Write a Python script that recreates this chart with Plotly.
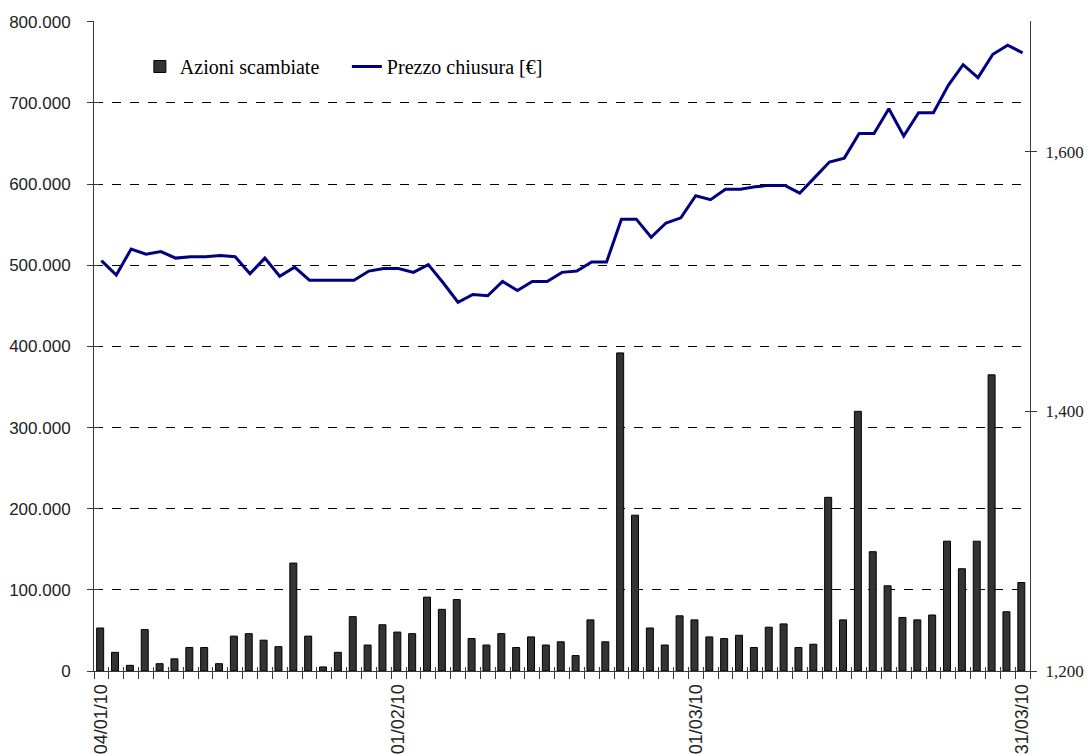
import pandas as pd
import plotly.graph_objects as go

# ---- data ----
dates = [d.strftime("%d/%m/%y") for d in pd.bdate_range("2010-01-04", "2010-03-31")]

volumes = [53000, 23000, 7000, 51000, 9000, 15000, 29000, 29000, 9000, 43000,
           46000, 38000, 30000, 133000, 43000, 5000, 23000, 67000, 32000, 57000,
           48000, 46000, 91000, 76000, 88000, 40000, 32000, 46000, 29000, 42000,
           32000, 36000, 19000, 63000, 36000, 392000, 192000, 53000, 32000, 68000,
           63000, 42000, 40000, 44000, 29000, 54000, 58000, 29000, 33000, 214000,
           63000, 320000, 147000, 105000, 66000, 63000, 69000, 160000, 126000, 160000,
           365000, 73000, 109000]

prices = [1516, 1505, 1525, 1521, 1523, 1518, 1519, 1519, 1520, 1519,
          1506, 1518, 1504, 1511, 1501, 1501, 1501, 1501, 1508, 1510,
          1510, 1507, 1513, 1499, 1484, 1490, 1489, 1500, 1493, 1500,
          1500, 1507, 1508, 1515, 1515, 1548, 1548, 1534, 1545, 1549,
          1566, 1563, 1571, 1571, 1573, 1574, 1574, 1568, 1580, 1592,
          1595, 1614, 1614, 1633, 1612, 1630, 1630, 1651, 1667, 1657,
          1675, 1682, 1676]

date_labels = ["04/01/10", "01/02/10", "01/03/10", "31/03/10"]
left_ticks = [0, 100000, 200000, 300000, 400000, 500000, 600000, 700000, 800000]
left_text = ["0", "100.000", "200.000", "300.000", "400.000",
             "500.000", "600.000", "700.000", "800.000"]
right_ticks = [1200, 1400, 1600]
right_text = ["1,200", "1,400", "1,600"]

name_bar = "Azioni scambiate"
name_line = "Prezzo chiusura [€]"

# ---- styling ----
AX = "#3a3a3a"
SANS = "Liberation Sans"
SERIF = "Liberation Serif"
n = len(dates)
xr = [-0.5, n - 0.5]
yl = [0, 801000]
yr = [1200, 1700.6]

fig = go.Figure()
fig.add_trace(go.Bar(
    x=dates, y=volumes, name=name_bar, width=0.47, offset=-0.32,
    marker=dict(color="#333333", line=dict(color="#000000", width=1)),
    xaxis="x", yaxis="y"))
fig.add_trace(go.Scatter(
    x=dates, y=prices, name=name_line, mode="lines",
    line=dict(color="#000080", width=3),
    xaxis="x", yaxis="y2"))

# invisible helpers so tick-mark overlay axes get drawn
for xa, ya in [("x3", "y"), ("x4", "y"), ("x", "y3"), ("x", "y4")]:
    fig.add_trace(go.Scatter(x=[dates[0]] if xa == "x" else [0], y=[0],
                             xaxis=xa, yaxis=ya, mode="markers",
                             marker=dict(opacity=0), showlegend=False, hoverinfo="skip"))

fig.update_layout(
    width=1087, height=754,
    margin=dict(l=94, r=57, t=21, b=83),
    paper_bgcolor="white", plot_bgcolor="white",
    showlegend=True,
    legend=dict(orientation="h", x=0.049, y=0.93, xanchor="left", yanchor="middle",
                bgcolor="rgba(0,0,0,0)", font=dict(family=SERIF, size=20, color="#000"),
                itemwidth=30, entrywidth=162, tracegroupgap=0),
    xaxis=dict(type="category", range=xr, domain=[0, 1], anchor="y",
               showline=True, linecolor=AX, linewidth=1, ticks="",
               tickvals=date_labels, ticktext=date_labels, tickangle=-90,
               tickfont=dict(family=SANS, size=18, color="#222"),
               ticklabelstandoff=5,
               showgrid=False, zeroline=False, automargin=False),
    xaxis3=dict(overlaying="x", anchor="y", type="linear", range=xr,
                tickvals=[k - 0.5 for k in range(n + 1)], ticks="outside", ticklen=7,
                tickcolor=AX, tickwidth=1, showticklabels=False,
                showgrid=False, zeroline=False, showline=False),
    xaxis4=dict(overlaying="x", anchor="y", type="linear", range=xr,
                tickvals=[k - 0.5 for k in range(n + 1)], ticks="inside", ticklen=4,
                tickcolor=AX, tickwidth=1, showticklabels=False,
                showgrid=False, zeroline=False, showline=False),
    yaxis=dict(range=yl, tickvals=left_ticks, ticktext=left_text,
               ticks="outside", ticklen=6, tickcolor=AX,
               showline=True, linecolor=AX, linewidth=1,
               showgrid=True, gridcolor="#000000", gridwidth=1, griddash="dash",
               zeroline=False, tickfont=dict(family=SANS, size=17, color="#222"),
               ticklabelstandoff=13, automargin=False),
    yaxis3=dict(overlaying="y", anchor="x", range=yl, tickvals=left_ticks,
                ticks="inside", ticklen=5, tickcolor=AX, showticklabels=False,
                showgrid=False, zeroline=False, showline=False),
    yaxis2=dict(overlaying="y", side="right", anchor="x", range=yr,
                tickvals=right_ticks, ticktext=right_text,
                ticks="outside", ticklen=6, tickcolor=AX,
                showline=True, linecolor=AX, linewidth=1,
                showgrid=False, zeroline=False,
                tickfont=dict(family=SERIF, size=17, color="#222"),
                ticklabelstandoff=5, automargin=False),
    yaxis4=dict(overlaying="y", side="right", anchor="x", range=yr,
                tickvals=right_ticks, ticks="inside", ticklen=5, tickcolor=AX,
                showticklabels=False, showgrid=False, zeroline=False, showline=False),
)

fig.write_html("out.html")
